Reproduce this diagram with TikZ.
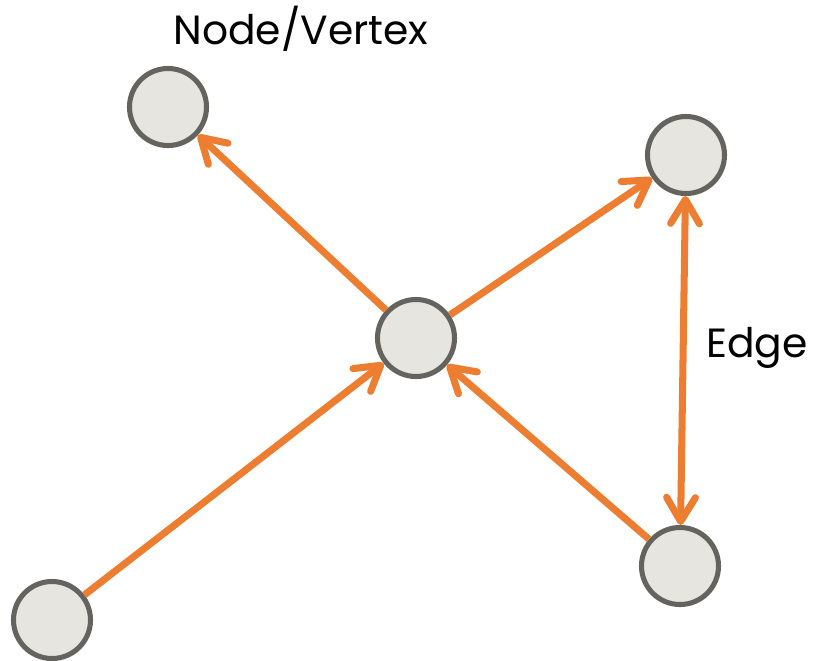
\documentclass[tikz,border=0pt]{standalone}
\usepackage{fontspec}
\setmainfont{Poppins}
\usetikzlibrary{arrows.meta}
\definecolor{edgeorange}{HTML}{ED7D31}
\definecolor{vertexgray}{HTML}{64635E}
\definecolor{vertexfill}{HTML}{E7E5DF}
\tikzstyle{vertex} = [circle, minimum size=1.925cm, inner sep=0pt, line width=3.6pt, draw=vertexgray, fill=vertexfill]
\tikzstyle{label} = [font=\fontsize{29}{34}\selectfont, text=black]
\tikzstyle{arrow} = [line width=5pt, draw=edgeorange, -{Straight Barb[length=0.6cm, width=0.72cm, line cap=round, line join=round]}]
\tikzstyle{twoway} = [line width=5pt, draw=edgeorange, {Straight Barb[length=0.6cm, width=0.72cm, line cap=round, line join=round]}-{Straight Barb[length=0.6cm, width=0.72cm, line cap=round, line join=round]}]

\begin{document}
\begin{tikzpicture}[x=0.025cm, y=-0.025cm]

\useasboundingbox (0,0) rectangle (815,660);

%% NODES

\node (topleft) [vertex] at (168,107) {};
\node (topright) [vertex] at (686,155) {};
\node (hub) [vertex] at (416,338) {};
\node (botleft) [vertex] at (52,620) {};
\node (botright) [vertex] at (680,566) {};

\node (vertex_label) [label] at (301,29) {Node/Vertex};
\node (edge_label) [label] at (757,348) {Edge};

%% ARROWS

\draw [arrow] (hub) -- (topleft);
\draw [arrow] (hub) -- (topright);
\draw [arrow] (botleft) -- (hub);
\draw [arrow] (botright) -- (hub);
\draw [twoway] (topright) -- (botright);

\end{tikzpicture}
\end{document}
